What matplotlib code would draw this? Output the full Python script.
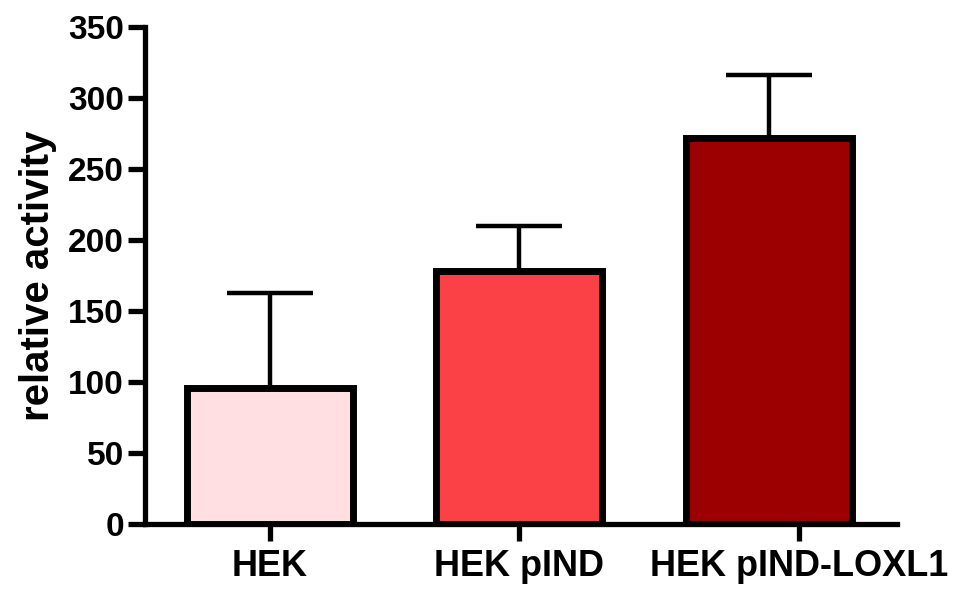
import numpy as np
import matplotlib.pyplot as plt

plt.rcParams['font.family'] = ['Liberation Sans', 'DejaVu Sans']
plt.rcParams['font.weight'] = 'bold'

groups = ['HEK', 'HEK pIND', 'HEK pIND-LOXL1']
means = [96, 178, 272]
errs = [67, 32, 44]
colors = ['#FFDFE2', '#FC4146', '#9C0000']
# the last category tick sits a little right of its bar in the original
tick_shift = [0, 0, 0.12]

fig = plt.figure(figsize=(9.58, 5.91), dpi=100)
ax = fig.add_axes([0.151, 0.113, 0.785, 0.841])

x = np.arange(len(groups))
ax.bar(x, means, width=0.665, color=colors, edgecolor='black', linewidth=5, zorder=3)
ax.errorbar(x, means, yerr=[np.zeros(len(errs)), errs], fmt='none', ecolor='black',
            elinewidth=3.2, capsize=31, capthick=3.2, zorder=2)

ax.set_xlim(-0.5, 2.51)
ax.set_ylim(0, 350)
ax.set_yticks(np.arange(0, 351, 50))
ax.set_xticks(x + np.array(tick_shift))
ax.set_xticklabels(groups, fontsize=26, fontweight='bold')
ax.tick_params(axis='y', labelsize=24, width=3.8, length=12, pad=3)
ax.tick_params(axis='x', width=3.8, length=12, pad=6)
for lab in ax.get_yticklabels():
    lab.set_fontweight('bold')
ax.set_ylabel('relative activity', fontsize=29, fontweight='bold', labelpad=8)

for s in ['top', 'right']:
    ax.spines[s].set_visible(False)
for s in ['left', 'bottom']:
    ax.spines[s].set_linewidth(3.8)

fig.savefig('out.png', dpi=100)
